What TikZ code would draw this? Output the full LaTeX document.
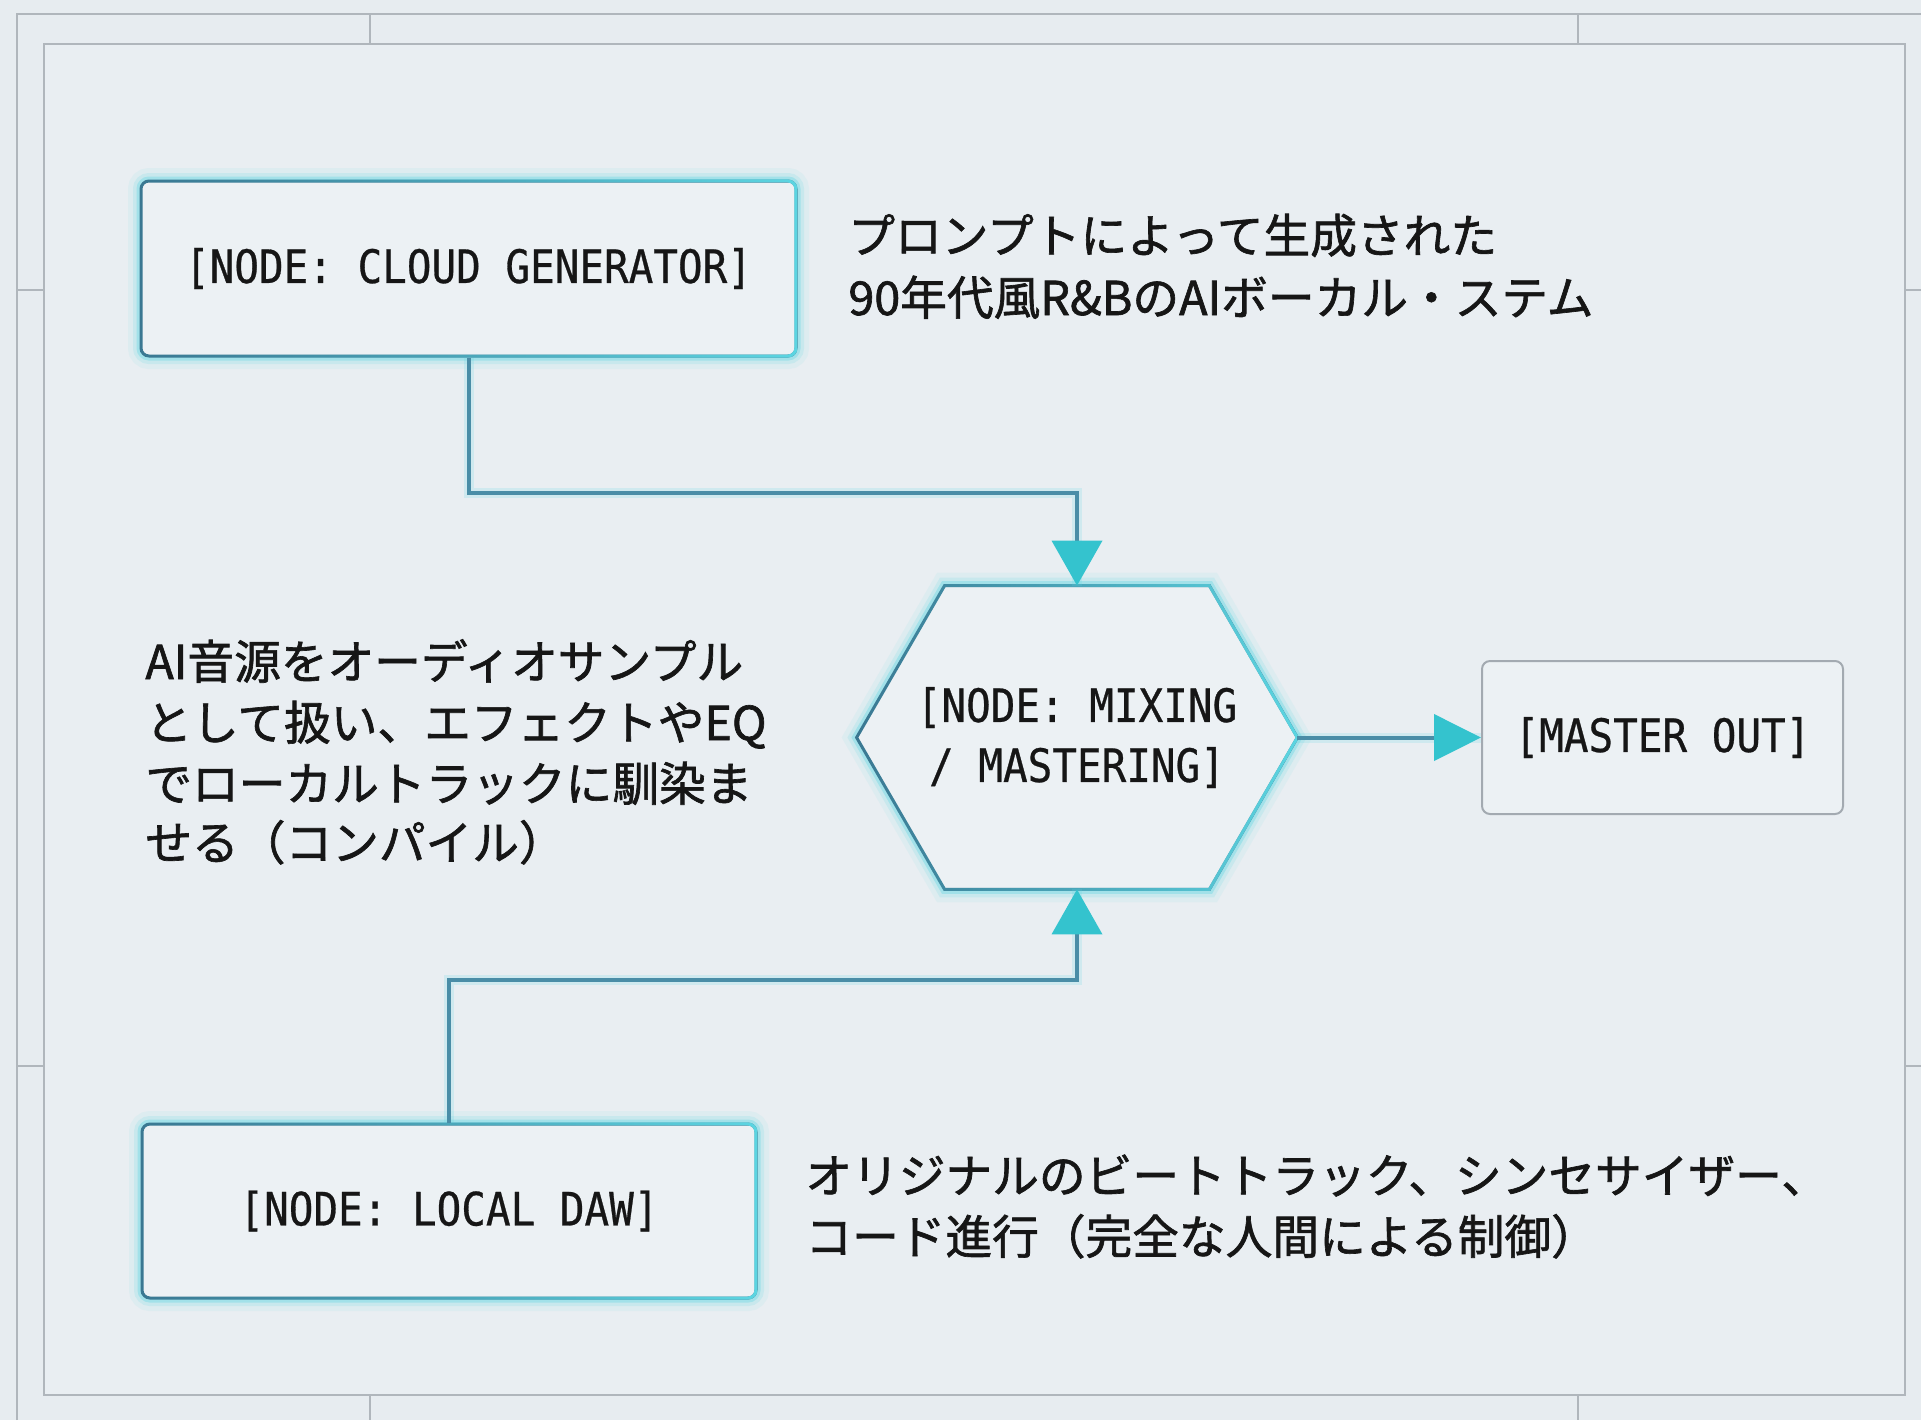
\documentclass[tikz,border=0pt]{standalone}
\usepackage{fontspec}
\usetikzlibrary{arrows.meta,fadings,calc}
\newfontfamily\jpfont{Noto Sans CJK JP}[FakeBold=1.4]
\newfontfamily\monofont{DejaVu Sans Mono}[FakeStretch=0.89,FakeBold=0.6]
\definecolor{bgc}{HTML}{E7ECF0}
\definecolor{panelc}{HTML}{E9EEF2}
\definecolor{framec}{HTML}{B0B6BC}
\definecolor{boxfill}{HTML}{ECF1F4}
\definecolor{edgec}{HTML}{3A7892}
\definecolor{glowc}{HTML}{5CD6E2}
\definecolor{wirec}{HTML}{4A8DA7}
\definecolor{tipc}{HTML}{34C3CE}
\definecolor{outedge}{HTML}{A3AAB1}
\definecolor{inkc}{HTML}{161616}
\pgfdeclarelayer{background}
\pgfsetlayers{background,main}
\begin{document}
\begin{tikzpicture}[x=0.5pt,y=-0.5pt,
  frameline/.style={draw=framec, line width=1.4pt},
  monofnt/.style={font=\monofont\fontsize{23pt}{30pt}\selectfont, text=inkc},
  glowing/.style={
     preaction={draw=glowc, line width=13pt, opacity=0.08},
     preaction={draw=glowc, line width=8pt, opacity=0.16},
     preaction={draw=glowc, line width=4.5pt, opacity=0.35},
     postaction={draw=glowc, line width=1.5pt, path fading=west}},
  nodebox/.style={monofnt, glowing, draw=edgec, line width=1.5pt, fill=boxfill,
     rounded corners=4pt, inner sep=0pt},
  outbox/.style={monofnt, draw=outedge, line width=1pt, fill=boxfill,
     rounded corners=4pt, inner sep=0pt},
  hexlabel/.style={monofnt, inner sep=0pt, align=center},
  hexshape/.style={glowing, draw=edgec, line width=1.5pt, fill=boxfill},
  wire/.style={draw=wirec, line width=2pt,
     preaction={-, draw=glowc, line width=5pt, opacity=0.18}},
  jptext/.style={font=\jpfont\fontsize{23.35pt}{30pt}\selectfont, text=inkc,
     anchor=base west, inner sep=0pt}
]
\useasboundingbox (0,0) rectangle (1921,1420);
\begin{pgfonlayer}{background}
\fill[bgc] (0,0) rectangle (1921,1420);
\fill[panelc] (44,44) rectangle (1905,1395);
% frames
\draw[frameline] (17,1420) -- (17,14) -- (1921,14);
\draw[frameline] (44,44) rectangle (1905,1395);
\draw[frameline] (370,14) -- (370,44);
\draw[frameline] (1578,14) -- (1578,44);
\draw[frameline] (17,290) -- (44,290);
\draw[frameline] (17,1066) -- (44,1066);
\draw[frameline] (1905,290) -- (1921,290);
\draw[frameline] (1905,1066) -- (1921,1066);
\draw[frameline] (370,1395) -- (370,1420);
\draw[frameline] (1578,1395) -- (1578,1420);
\end{pgfonlayer}

% mixing hexagon
\node[hexlabel, minimum width=220pt, minimum height=151.5pt] (mix) at (1077,737.5)
  {[NODE: MIXING\\/ MASTERING]};
\begin{pgfonlayer}{background}
\draw[hexshape] (mix.west) -- ($(mix.north west)+(88,0)$) -- ($(mix.north east)+(-88,0)$)
  -- (mix.east) -- ($(mix.south east)+(-88,0)$) -- ($(mix.south west)+(88,0)$) -- cycle;
\end{pgfonlayer}

% boxes
\node[nodebox, minimum width=327.5pt, minimum height=87.5pt] (cloud) at (468.5,268.5)
  {[NODE: CLOUD GENERATOR]};
\node[nodebox, minimum width=307pt, minimum height=87pt] (daw) at (449,1211)
  {[NODE: LOCAL DAW]};
\node[outbox, minimum width=180.5pt, minimum height=76.5pt] (out) at (1662.5,737.5)
  {[MASTER OUT]};

% connectors
\coordinate (jt) at (1077,493);
\coordinate (jb) at (1077,980);
\draw[wire, -{Triangle[length=22.5pt,width=25pt,color=tipc]}] (cloud.south) |- (jt) -- (mix.north);
\draw[wire, -{Triangle[length=22.5pt,width=25pt,color=tipc]}] (daw.north) |- (jb) -- (mix.south);
\draw[wire, -{Triangle[length=23.5pt,width=23pt,color=tipc]}] (mix.east) -- (out.west);

% texts
\node[jptext] (ta1) at (848,253) {プロンプトによって生成された};
\node[jptext] (ta2) at (848,315) {90年代風R\&BのAIボーカル・ステム};
\node[jptext] (tb1) at (145,679) {AI音源をオーディオサンプル};
\node[jptext] (tb2) at (145,740) {として扱い、エフェクトやEQ};
\node[jptext] (tb3) at (145,801) {でローカルトラックに馴染ま};
\node[jptext] (tb4) at (145,860) {せる（コンパイル）};
\node[jptext] (tc1) at (805,1193) {オリジナルのビートトラック、シンセサイザー、};
\node[jptext] (tc2) at (805,1254) {コード進行（完全な人間による制御）};
\end{tikzpicture}
\end{document}
